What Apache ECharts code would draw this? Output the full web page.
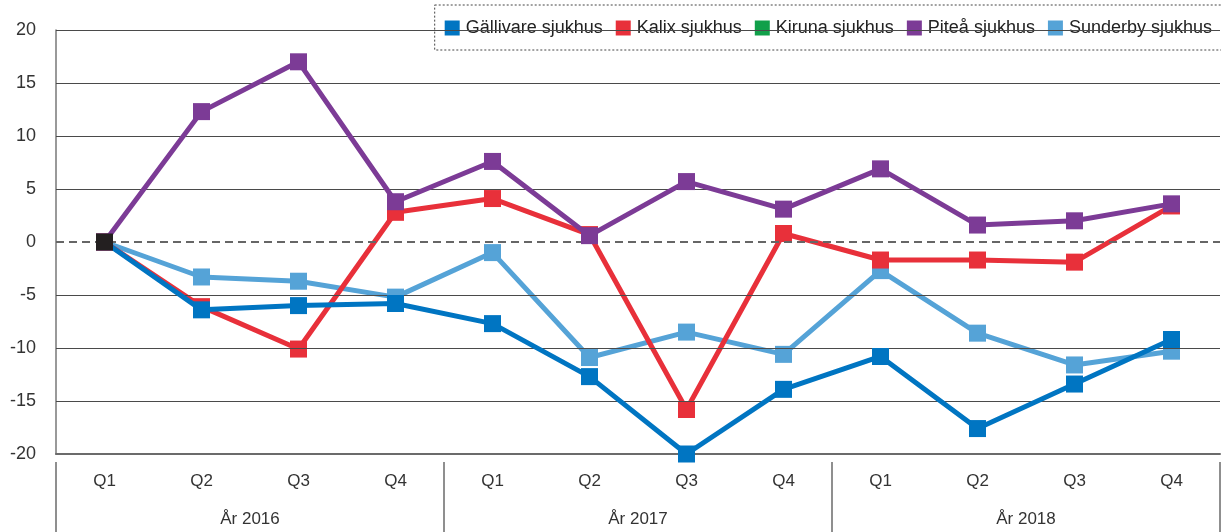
<!DOCTYPE html>
<html>
<head>
<meta charset="utf-8">
<script src="https://cdn.jsdelivr.net/npm/echarts@6/dist/echarts.min.js"></script>
<style>
  html, body { margin: 0; padding: 0; background: #fff; }
  #chart { width: 1221px; height: 532px; }
</style>
</head>
<body>
<div id="chart"></div>
<script>
// Quarterly change per hospital, 2016–2018
const quarters = ['Q1', 'Q2', 'Q3', 'Q4', 'Q1', 'Q2', 'Q3', 'Q4', 'Q1', 'Q2', 'Q3', 'Q4'];
const years = ['År 2016', 'År 2017', 'År 2018'];
const yTicks = { min: -20, max: 20, interval: 5 };

const gallivare = [0, -6.4, -6.0, -5.8, -7.7, -12.7, -20.0, -13.9, -10.8, -17.6, -13.4, -9.2];
const kalix     = [0, -6.1, -10.1, 2.8, 4.1, 0.7, -15.8, 0.8, -1.7, -1.7, -1.9, 3.4];
const kiruna    = [null, null, null, null, null, null, null, null, null, null, null, null];
const pitea     = [0, 12.3, 17.0, 3.8, 7.6, 0.6, 5.7, 3.1, 6.9, 1.6, 2.0, 3.6];
const sunderby  = [0, -3.3, -3.7, -5.2, -1.0, -10.9, -8.5, -10.6, -2.7, -8.6, -11.6, -10.3];

const names  = ['Gällivare sjukhus', 'Kalix sjukhus', 'Kiruna sjukhus', 'Piteå sjukhus', 'Sunderby sjukhus'];
const colors = ['#0075C2', '#E8303A', '#11A04A', '#7C3B96', '#55A3D7'];
const zOrder = [6, 4, 3, 5, 2];
const startMarkColor = '#231F20';

const FONT = '"Liberation Sans Narrow", "Arial Narrow", "Liberation Sans", sans-serif';

// horizontal grid lines at every tick except zero (zero gets a dashed line)
const gridValues = [];
for (let v = yTicks.min + yTicks.interval; v <= yTicks.max; v += yTicks.interval) {
  if (v !== 0) gridValues.push({ yAxis: v });
}

function makeSeries(i, data) {
  const values = data.map((v, k) => (k === 0 && i === 0 && v !== null)
    ? { value: v, itemStyle: { color: startMarkColor } }
    : v);
  return {
    name: names[i],
    type: 'line',
    data: values,
    z: zOrder[i],
    symbol: 'rect',
    symbolSize: 17,
    showSymbol: true,
    lineStyle: { width: 5, color: colors[i] },
    itemStyle: { color: colors[i] },
    emphasis: { disabled: true },
    animation: false
  };
}

const series = [gallivare, kalix, kiruna, pitea, sunderby].map((d, i) => makeSeries(i, d));
// solid grid lines
series[2].markLine = {
  silent: true,
  symbol: 'none',
  label: { show: false },
  lineStyle: { type: 'solid', color: '#4a4a4a', width: 1 },
  data: gridValues,
  animation: false
};
// dashed zero reference line
series[4].markLine = {
  silent: true,
  symbol: 'none',
  label: { show: false },
  lineStyle: { type: [8, 5], color: '#666', width: 2 },
  data: [{ yAxis: 0 }],
  animation: false
};

const chart = echarts.init(document.getElementById('chart'), null, { renderer: 'canvas' });
chart.setOption({
  backgroundColor: '#fff',
  textStyle: { fontFamily: FONT },
  animation: false,
  legend: {
    right: -3,
    top: 5,
    orient: 'horizontal',
    icon: 'rect',
    itemWidth: 15,
    itemHeight: 15,
    itemGap: 13,
    padding: [14, 12, 13, 10],
    borderColor: '#444',
    borderWidth: 1,
    borderType: [2, 2],
    textStyle: { fontFamily: FONT, fontSize: 18, color: '#222', padding: [0, 0, 0, 1] },
    data: names
  },
  grid: { left: 56, right: 1, top: 30, bottom: 78, containLabel: false },
  xAxis: [
    {
      type: 'category',
      data: quarters,
      boundaryGap: true,
      axisLine: { show: true, onZero: false, lineStyle: { color: '#6b6b6b', width: 2 } },
      axisTick: { show: false },
      axisLabel: { fontFamily: FONT, fontSize: 17, color: '#333', margin: 19, interval: 0 },
      splitLine: { show: false }
    },
    {
      type: 'category',
      data: years,
      position: 'bottom',
      offset: 78,
      boundaryGap: true,
      axisLine: { show: false, onZero: false },
      axisTick: { show: true, inside: true, length: 70, interval: 0, lineStyle: { color: '#6b6b6b', width: 1.5 } },
      axisLabel: { inside: true, fontFamily: FONT, fontSize: 17, color: '#333', margin: 4, interval: 0 },
      splitLine: { show: false }
    }
  ],
  yAxis: {
    type: 'value',
    min: yTicks.min,
    max: yTicks.max,
    interval: yTicks.interval,
    axisLine: { show: true, onZero: false, lineStyle: { color: '#777', width: 1.5 } },
    axisTick: { show: false },
    axisLabel: { fontFamily: FONT, fontSize: 18, color: '#333', margin: 20 },
    splitLine: { show: false }
  },
  series: series
});
</script>
</body>
</html>
